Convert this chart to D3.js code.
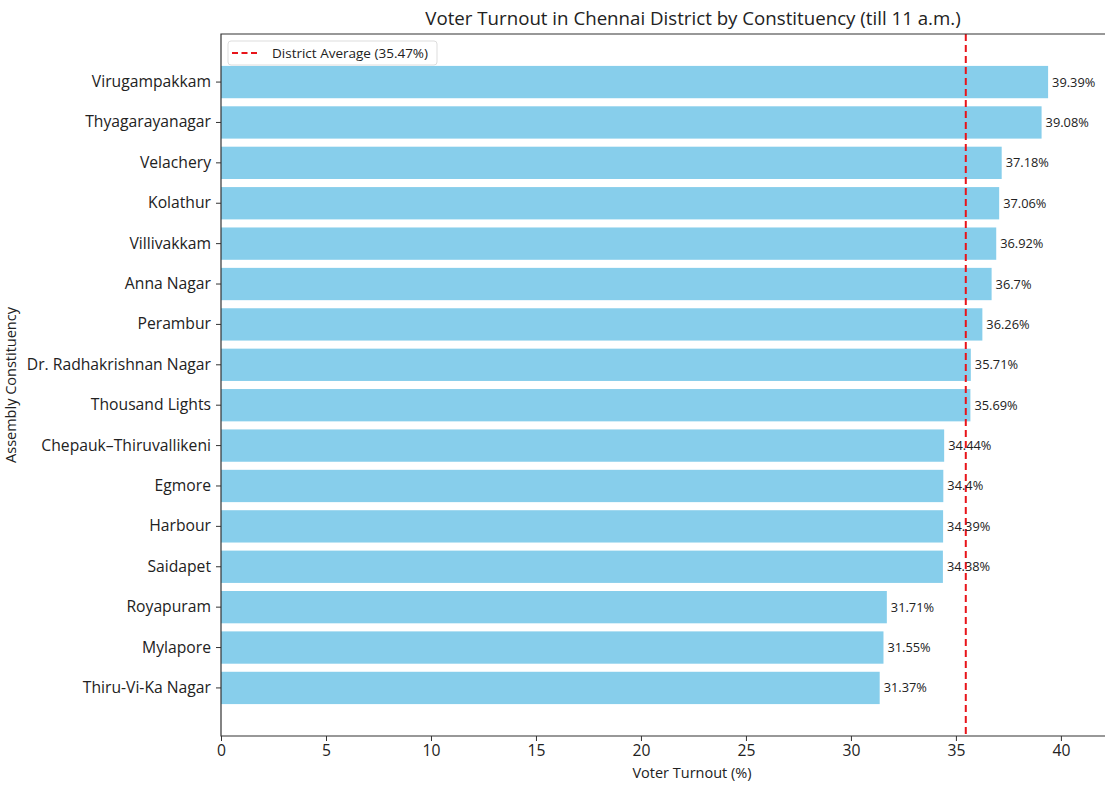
<!DOCTYPE html>
<html>
<head>
<meta charset="utf-8">
<script src="https://cdn.jsdelivr.net/npm/d3@7"></script>
<style>
  body { margin: 0; background: #fff; }
  text { font-family: "Open Sans", Roboto, sans-serif; fill: #222; }
</style>
</head>
<body>
<div id="chart"></div>
<script>
// data
const constituencies = ["Virugampakkam", "Thyagarayanagar", "Velachery", "Kolathur", "Villivakkam",
  "Anna Nagar", "Perambur", "Dr. Radhakrishnan Nagar", "Thousand Lights", "Chepauk–Thiruvallikeni",
  "Egmore", "Harbour", "Saidapet", "Royapuram", "Mylapore", "Thiru-Vi-Ka Nagar"];
const turnout = [39.39, 39.08, 37.18, 37.06, 36.92, 36.7, 36.26, 35.71, 35.69, 34.44,
  34.4, 34.39, 34.38, 31.71, 31.55, 31.37];
const districtAverage = 35.47;
const xTicks = [0, 5, 10, 15, 20, 25, 30, 35, 40];

// figure size and axes box
const W = 1105, H = 785;
const axL = 221, axT = 34, axB = 736, axR = 1105;

const svg = d3.select("#chart").append("svg")
    .attr("width", W)
    .attr("height", H);

const x = d3.scaleLinear()
    .domain([0, 42.1])
    .range([axL, axR]);

const y = d3.scaleBand()
    .domain(constituencies)
    .range([axT, axB])
    .paddingInner(0.2)
    .paddingOuter(0.79);

// bars
svg.selectAll("rect.bar")
    .data(constituencies)
    .join("rect")
    .attr("class", "bar")
    .attr("x", x(0))
    .attr("y", d => y(d))
    .attr("width", (d, i) => x(turnout[i]) - x(0))
    .attr("height", y.bandwidth())
    .attr("fill", "#87CEEB");

// average line
svg.append("line")
    .attr("x1", x(districtAverage)).attr("x2", x(districtAverage))
    .attr("y1", axT).attr("y2", axB)
    .attr("stroke", "#e8141a")
    .attr("stroke-width", 2)
    .attr("stroke-dasharray", "7,4");

// value labels
svg.selectAll("text.val")
    .data(constituencies)
    .join("text")
    .attr("class", "val")
    .attr("x", (d, i) => x(turnout[i]) + 4)
    .attr("y", d => y(d) + y.bandwidth() / 2)
    .attr("dy", "0.35em")
    .style("font-size", "12.8px")
    .text((d, i) => turnout[i] + "%");

// spines (right side is cut off in the figure)
svg.append("path")
    .attr("d", `M${axR},${axT}H${axL}V${axB}H${axR}`)
    .attr("fill", "none")
    .attr("stroke", "#333")
    .attr("stroke-width", 1.2);

// x axis
const xAxis = svg.append("g")
    .attr("transform", `translate(0,${axB})`)
    .call(d3.axisBottom(x).tickValues(xTicks).tickSize(5).tickPadding(4));
xAxis.select(".domain").remove();
xAxis.selectAll("line").attr("stroke", "#333");
xAxis.selectAll("text").style("font-size", "15.7px").attr("fill", "#222");

// y axis
const yAxis = svg.append("g")
    .attr("transform", `translate(${axL},0)`)
    .call(d3.axisLeft(y).tickSize(5).tickPadding(5));
yAxis.select(".domain").remove();
yAxis.selectAll("line").attr("stroke", "#333");
yAxis.selectAll("text").style("font-size", "15.7px").attr("fill", "#222");

// title and axis labels
svg.append("text")
    .attr("x", 693).attr("y", 25)
    .attr("text-anchor", "middle")
    .style("font-size", "18.7px")
    .text("Voter Turnout in Chennai District by Constituency (till 11 a.m.)");

svg.append("text")
    .attr("x", 692).attr("y", 778)
    .attr("text-anchor", "middle")
    .style("font-size", "14.5px")
    .text("Voter Turnout (%)");

svg.append("text")
    .attr("transform", `translate(16,${(axT + axB) / 2}) rotate(-90)`)
    .attr("text-anchor", "middle")
    .style("font-size", "14.5px")
    .text("Assembly Constituency");

// legend
const lg = svg.append("g").attr("transform", `translate(${axL + 7},${axT + 7})`);
lg.append("rect")
    .attr("width", 209).attr("height", 24)
    .attr("rx", 3)
    .attr("fill", "#fff").attr("fill-opacity", 0.85)
    .attr("stroke", "#ddd");
lg.append("line")
    .attr("x1", 4).attr("x2", 32).attr("y1", 12).attr("y2", 12)
    .attr("stroke", "#e8141a").attr("stroke-width", 2)
    .attr("stroke-dasharray", "6,3.5");
lg.append("text")
    .attr("x", 44).attr("y", 12).attr("dy", "0.35em")
    .style("font-size", "13.5px")
    .text(`District Average (${districtAverage}%)`);
</script>
</body>
</html>
